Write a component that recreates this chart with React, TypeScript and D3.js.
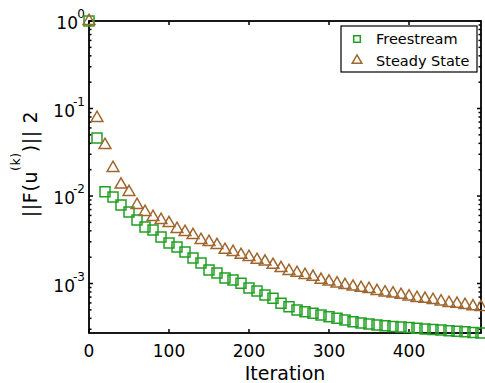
import React, { useEffect } from 'react';
import * as d3 from 'd3';

// iteration numbers where markers are drawn
const iterations = d3.range(0, 500, 10);

const freestream = [
  1.0, 0.046, 0.0112, 0.00975, 0.00789, 0.00656, 0.00532, 0.00442, 0.00409, 0.0034,
  0.0029, 0.00261, 0.00229, 0.00196, 0.00172, 0.00143, 0.00132, 0.00116, 0.0011, 0.00101,
  0.00089, 0.00082, 0.00074, 0.00068, 0.000594, 0.000543, 0.000498, 0.000476, 0.000456, 0.000437,
  0.000418, 0.0004, 0.000383, 0.000366, 0.000354, 0.000344, 0.000336, 0.00033, 0.000323, 0.000318,
  0.000314, 0.000308, 0.000303, 0.000298, 0.000294, 0.000288, 0.000284, 0.000281, 0.000275, 0.000272,
];

const steadyState = [
  1.0, 0.0779, 0.0383, 0.0209, 0.0135, 0.0111, 0.00789, 0.00656, 0.00575, 0.00532,
  0.00491, 0.0042, 0.00388, 0.00358, 0.00314, 0.00298, 0.00275, 0.00242, 0.00229, 0.00212,
  0.00201, 0.00186, 0.00178, 0.00163, 0.0015, 0.00139, 0.00132, 0.00125, 0.00119, 0.0011,
  0.00105, 0.001, 0.00096, 0.00092, 0.00089, 0.000865, 0.00082, 0.000789, 0.000769, 0.00074,
  0.00071, 0.000683, 0.000668, 0.000648, 0.000623, 0.000599, 0.000586, 0.000568, 0.000548, 0.000538,
];

const xTicks = [0, 100, 200, 300, 400];
const yExponents = [0, -1, -2, -3];
const seriesNames = ['Freestream', 'Steady State'];

const width = 485;
const height = 383;
const margin = { top: 21, right: 4, bottom: 50, left: 89 };
const green = '#22a022';
const brown = '#a0662e';
const font = '"DejaVu Sans", sans-serif';

export default function App() {
  useEffect(() => {
    document.body.style.margin = '0';
  }, []);

  const innerW = width - margin.left - margin.right;
  const innerH = height - margin.top - margin.bottom;

  const x = d3.scaleLinear().domain([0, 490]).range([margin.left, margin.left + innerW]);
  const y = d3.scaleLog().domain([2.72e-4, 1]).range([margin.top + innerH, margin.top]);

  // minor log ticks
  const minor: number[] = [];
  for (let e = -4; e < 0; e++) {
    for (let m = 2; m <= 9; m++) {
      const v = m * Math.pow(10, e);
      if (v >= y.domain()[0] && v <= 1) minor.push(v);
    }
  }

  const square = d3.symbol().type(d3.symbolSquare);
  const triangle = d3.symbol().type(d3.symbolTriangle);

  const x0 = margin.left;
  const x1 = margin.left + innerW;
  const y0 = margin.top + innerH;
  const y1 = margin.top;

  return (
    <svg width={width} height={height} style={{ display: 'block' }}>
      <rect width={width} height={height} fill="#fff" />

      {/* box */}
      <rect x={x0} y={y1} width={innerW} height={innerH} fill="none" stroke="#000" strokeWidth={1.8} />

      {/* x ticks */}
      {xTicks.map(t => (
        <g key={'x' + t}>
          <line x1={x(t)} x2={x(t)} y1={y0} y2={y0 - 4} stroke="#000" strokeWidth={1.5} />
          <line x1={x(t)} x2={x(t)} y1={y1} y2={y1 + 4} stroke="#000" strokeWidth={1.5} />
          <text x={x(t)} y={y0 + 24} textAnchor="middle" fontFamily={font} fontSize={17}>{t}</text>
        </g>
      ))}

      {/* y ticks */}
      {yExponents.map(e => {
        const yy = y(Math.pow(10, e));
        return (
          <g key={'y' + e}>
            <line x1={x0} x2={x0 + 4} y1={yy} y2={yy} stroke="#000" strokeWidth={1.5} />
            <line x1={x1} x2={x1 - 4} y1={yy} y2={yy} stroke="#000" strokeWidth={1.5} />
            <text x={x0 - 4} y={yy - 3} textAnchor="end" fontFamily={font} fontSize={12}>{e}</text>
            <text x={x0 - (e < 0 ? 14 : 11)} y={yy + 8} textAnchor="end" fontFamily={font} fontSize={17}>10</text>
          </g>
        );
      })}
      {minor.map(v => (
        <g key={'m' + v}>
          <line x1={x0} x2={x0 + 2.5} y1={y(v)} y2={y(v)} stroke="#000" strokeWidth={1.5} />
          <line x1={x1} x2={x1 - 2.5} y1={y(v)} y2={y(v)} stroke="#000" strokeWidth={1.5} />
        </g>
      ))}

      {/* series */}
      {freestream.map((v, i) => (
        <path key={'f' + i} d={square.size(100)() as string}
          transform={`translate(${x(iterations[i])},${y(v)})`}
          fill="none" stroke={green} strokeWidth={1.5} />
      ))}
      {steadyState.map((v, i) => (
        <path key={'s' + i} d={triangle.size(60)() as string}
          transform={`translate(${x(iterations[i])},${y(v)})`}
          fill="none" stroke={brown} strokeWidth={1.5} />
      ))}

      {/* axis labels */}
      <text x={x0 + innerW / 2} y={380} textAnchor="middle" fontFamily={font} fontSize={19}>Iteration</text>
      <text transform="translate(37,164) rotate(-90)" textAnchor="middle" fontFamily={font} fontSize={19} letterSpacing={0.6}>
        ||F(u<tspan dy={-17} fontSize={12.5}>(k)</tspan><tspan dy={17}>)|| 2</tspan>
      </text>

      {/* legend */}
      <rect x={341} y={26} width={136} height={46} fill="#fff" stroke="#000" strokeWidth={1.2} />
      {seriesNames.map((name, i) => (
        <g key={name} transform={`translate(0,${39 + i * 21.5})`}>
          <path d={(i === 0 ? square.size(44) : triangle.size(40))() as string}
            transform="translate(357,0)" fill="none" stroke={i === 0 ? green : brown} strokeWidth={1.5} />
          <text x={376} y={5} fontFamily={font} fontSize={14.5}>{name}</text>
        </g>
      ))}
    </svg>
  );
}
